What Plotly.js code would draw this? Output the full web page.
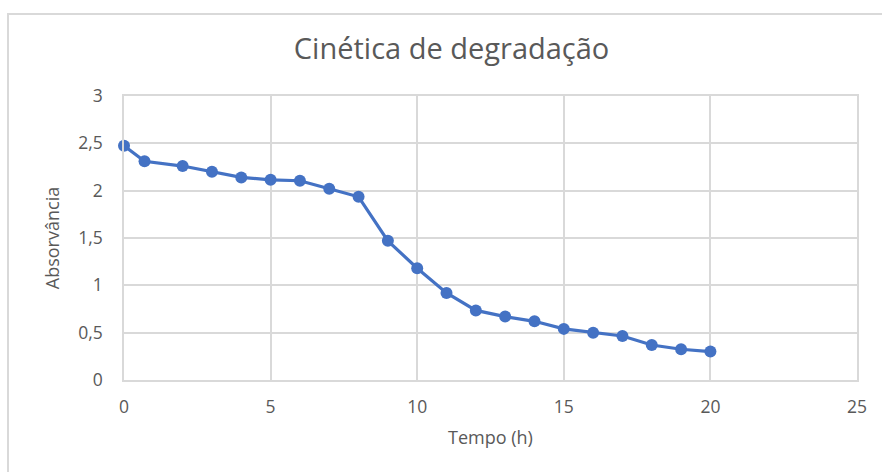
<!DOCTYPE html>
<html>
<head>
<meta charset="utf-8">
<script src="https://cdn.plot.ly/plotly-3.0.1.min.js"></script>
<style>
  html, body { margin: 0; padding: 0; background: #ffffff; overflow: hidden; }
  #frame { position: absolute; left: 7px; top: 13px; width: 1000px; height: 1000px;
           border: 2px solid #d9d9d9; box-sizing: border-box; }
  #chart { position: absolute; left: 0; top: 0; width: 882px; height: 472px; }
</style>
</head>
<body>
<div id="frame"></div>
<div id="chart"></div>
<script>
// Data
const tempo = [0, 0.7, 2, 3, 4, 5, 6, 7, 8, 9, 10, 11, 12, 13, 14, 15, 16, 17, 18, 19, 20];
const absorbancia = [2.475, 2.31, 2.26, 2.20, 2.14, 2.115, 2.105, 2.02, 1.935, 1.47, 1.18, 0.92,
                     0.735, 0.67, 0.62, 0.54, 0.50, 0.465, 0.37, 0.325, 0.30];

const xTickVals = [0, 5, 10, 15, 20, 25];
const xTickText = ["0", "5", "10", "15", "20", "25"];
const yTickVals = [0, 0.5, 1, 1.5, 2, 2.5, 3];
const yTickText = ["0", "0,5", "1", "1,5", "2", "2,5", "3"];

const fontFamily = "'Open Sans', 'Noto Sans', sans-serif";
const textColor = "#595959";
const gridColor = "#d9d9d9";

const trace = {
  x: tempo,
  y: absorbancia,
  type: "scatter",
  mode: "lines+markers",
  line: { color: "#4472C4", width: 3.2 },
  marker: { color: "#4472C4", size: 12 },
  cliponaxis: false,
  hoverinfo: "x+y"
};

const layout = {
  width: 882,
  height: 472,
  paper_bgcolor: "rgba(0,0,0,0)",
  plot_bgcolor: "rgba(0,0,0,0)",
  margin: { l: 124, r: 25, t: 96, b: 92, pad: 0 },
  showlegend: false,
  separators: ",.",
  font: { family: fontFamily, color: textColor, size: 17 },
  title: {
    text: "Cinética de degradação",
    font: { family: fontFamily, size: 29, color: textColor },
    xref: "container", x: 0.512, xanchor: "center",
    yref: "container", y: 1 - 49 / 472, yanchor: "middle"
  },
  xaxis: {
    range: [0, 25],
    tickmode: "array",
    tickvals: xTickVals,
    ticktext: xTickText,
    ticks: "",
    ticklabelstandoff: 10,
    tickfont: { family: fontFamily, size: 17.5, color: textColor },
    showgrid: true,
    gridcolor: gridColor,
    gridwidth: 1.5,
    zeroline: false,
    showline: true,
    linecolor: gridColor,
    linewidth: 1.5,
    mirror: true,
    fixedrange: true,
    automargin: false,
    title: {
      text: "Tempo (h)",
      font: { family: fontFamily, size: 18, color: textColor },
      standoff: 15
    }
  },
  yaxis: {
    range: [0, 3],
    tickmode: "array",
    tickvals: yTickVals,
    ticktext: yTickText,
    ticks: "",
    ticklabelstandoff: 16,
    tickfont: { family: fontFamily, size: 17.5, color: textColor },
    showgrid: true,
    gridcolor: gridColor,
    gridwidth: 1.5,
    zeroline: false,
    showline: true,
    linecolor: gridColor,
    linewidth: 1.5,
    mirror: true,
    fixedrange: true,
    automargin: false,
    title: {
      text: "Absorvância",
      font: { family: fontFamily, size: 18, color: textColor },
      standoff: 14
    }
  }
};

Plotly.newPlot("chart", [trace], layout, { displayModeBar: false, staticPlot: false, responsive: false });
</script>
</body>
</html>
